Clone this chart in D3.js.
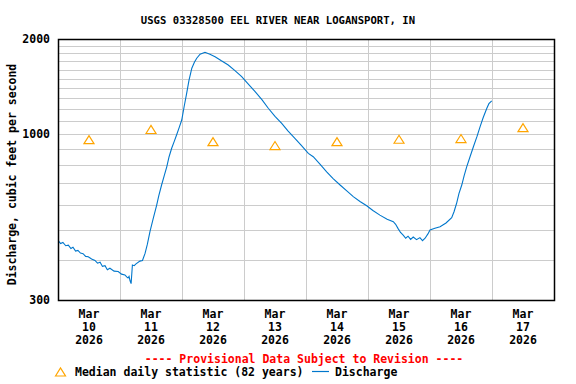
<!DOCTYPE html>
<html>
<head>
<meta charset="utf-8">
<script src="https://cdn.jsdelivr.net/npm/d3@7"></script>
<style>
  body { margin: 0; background: #fff; }
  text { font-family: "DejaVu Sans Mono", "Liberation Mono", monospace; font-weight: bold; }
</style>
</head>
<body>
<script>
// hours after Mar 10 2026 00:00, and discharge in cfs
var hours = [0.1, 1.0, 1.9, 3.0, 4.0, 5.0, 5.8, 6.8, 7.7, 8.7, 9.7, 10.7, 11.7, 13.0, 14.3, 15.3, 16.3, 17.2, 18.2, 19.1, 20.1, 21.7, 23.3, 24.6, 25.9, 26.6, 27.1, 27.5, 27.9, 28.3, 28.8, 29.5, 30.2, 31.7, 32.7, 33.7, 34.6, 35.6, 36.8, 38.2, 39.0, 40.1, 41.1, 42.1, 43.0, 44.0, 45.0, 45.9, 46.9, 47.9, 48.8, 49.8, 50.7, 51.8, 52.8, 53.7, 55.0, 56.9, 58.8, 60.8, 63.1, 65.9, 68.5, 71.1, 73.5, 76.3, 79.0, 81.4, 84.0, 86.6, 89.0, 91.7, 94.1, 96.9, 98.8, 101.4, 104.0, 106.5, 109.2, 111.9, 114.3, 116.9, 119.5, 121.9, 124.6, 127.4, 129.8, 130.7, 131.6, 132.6, 133.7, 134.6, 135.5, 136.5, 137.5, 138.8, 140.1, 141.1, 142.1, 143.2, 144.0, 145.9, 147.9, 150.2, 152.4, 153.3, 154.3, 155.2, 156.3, 157.2, 158.2, 159.5, 160.8, 162.2, 163.4, 164.6, 166.0, 166.8, 167.9];
var cfs = [462, 452, 456, 445, 447, 436, 440, 428, 430, 422, 420, 412, 411, 404, 400, 392, 395, 383, 385, 374, 378, 370, 369, 362, 360, 355, 352, 356, 345, 338, 387, 385, 390, 398, 400, 421, 450, 493, 540, 598, 640, 692, 740, 790, 850, 904, 950, 995, 1050, 1110, 1220, 1348, 1480, 1617, 1690, 1739, 1790, 1816, 1790, 1759, 1710, 1656, 1590, 1521, 1445, 1364, 1285, 1209, 1140, 1083, 1025, 972, 925, 871, 850, 805, 762, 725, 692, 662, 636, 614, 595, 575, 556, 540, 530, 520, 505, 490, 480, 470, 477, 466, 474, 465, 472, 462, 470, 485, 499, 505, 511, 525, 546, 570, 606, 650, 692, 740, 790, 850, 914, 985, 1058, 1130, 1209, 1250, 1275];

// median daily statistic at noon of each day
var medianDays = [10, 11, 12, 13, 14, 15, 16, 17];
var medianCfs = [962, 1036, 949, 922, 949, 965, 970, 1050];

var yTickLabels = [300, 1000, 2000];
var yGridValues = [400, 500, 600, 700, 800, 900, 1000, 1100, 1200, 1300, 1400, 1500, 1600, 1700, 1800, 1900];

var width = 576, height = 384;
var margin = {top: 39, right: 22, bottom: 84, left: 58};
var plotW = width - margin.left - margin.right;
var plotH = height - margin.top - margin.bottom;

var start = new Date(2026, 2, 10);
var end = new Date(2026, 2, 18);

var svg = d3.select("body").append("svg")
  .attr("width", width)
  .attr("height", height);

var g = svg.append("g")
  .attr("transform", "translate(" + margin.left + "," + margin.top + ")");

var x = d3.scaleTime().domain([start, end]).range([0, plotW]);
var y = d3.scaleLog().domain([300, 2000]).range([plotH, 0]);

// grid
var days = d3.timeDay.range(d3.timeDay.offset(start, 1), end);
g.selectAll(".vgrid").data(days).enter().append("line")
  .attr("x1", function(d) { return Math.round(x(d)) + 0.5; })
  .attr("x2", function(d) { return Math.round(x(d)) + 0.5; })
  .attr("y1", 0).attr("y2", plotH)
  .attr("stroke", "#cccccc").attr("stroke-width", 1);

g.selectAll(".hgrid").data(yGridValues).enter().append("line")
  .attr("x1", 0).attr("x2", plotW)
  .attr("y1", function(d) { return Math.round(y(d)) + 0.5; })
  .attr("y2", function(d) { return Math.round(y(d)) + 0.5; })
  .attr("stroke", "#cccccc").attr("stroke-width", 1);

// discharge line
var pts = hours.map(function(h, i) {
  return {t: d3.timeMinute.offset(start, Math.round(h * 60)), v: cfs[i]};
});
var line = d3.line()
  .x(function(d) { return x(d.t); })
  .y(function(d) { return y(d.v); });

g.append("path")
  .datum(pts)
  .attr("fill", "none")
  .attr("stroke", "#0077cc")
  .attr("stroke-width", 1.1)
  .attr("d", line);

// median triangles
function tri(cx, cy) {
  return "M" + (cx - 5) + "," + (cy + 4) + "L" + cx + "," + (cy - 4) + "L" + (cx + 5) + "," + (cy + 4) + "Z";
}
g.selectAll(".med").data(medianDays).enter().append("path")
  .attr("d", function(d, i) {
    return tri(x(new Date(2026, 2, d, 12)), y(medianCfs[i]));
  })
  .attr("fill", "none")
  .attr("stroke", "#ffa500")
  .attr("stroke-width", 1.2);

// frame
g.append("rect")
  .attr("x", 0.5).attr("y", 0.5)
  .attr("width", plotW).attr("height", plotH)
  .attr("fill", "none").attr("stroke", "#000").attr("stroke-width", 1.5);

// y labels
g.selectAll(".ylab").data(yTickLabels).enter().append("text")
  .attr("x", -8)
  .attr("y", function(d) { return y(d) + 4; })
  .attr("text-anchor", "end")
  .attr("font-size", "11.5px")
  .text(function(d) { return d; });

// x labels
var noons = medianDays.map(function(d) { return new Date(2026, 2, d, 12); });
var xl = g.selectAll(".xlab").data(noons).enter().append("text")
  .attr("text-anchor", "middle")
  .attr("font-size", "11.5px")
  .attr("transform", function(d) { return "translate(" + x(d) + "," + (plotH + 18) + ")"; });
xl.append("tspan").attr("x", 0).attr("y", 0).text(d3.timeFormat("%b"));
xl.append("tspan").attr("x", 0).attr("y", 13).text(function(d) { return d3.timeFormat("%-d")(d); });
xl.append("tspan").attr("x", 0).attr("y", 26).text(d3.timeFormat("%Y"));

// title
svg.append("text")
  .attr("x", 278).attr("y", 24)
  .attr("text-anchor", "middle")
  .attr("font-size", "10.6px")
  .text("USGS 03328500 EEL RIVER NEAR LOGANSPORT, IN");

// y axis title
svg.append("text")
  .attr("transform", "translate(16," + (margin.top + plotH / 2 + 5) + ") rotate(-90)")
  .attr("text-anchor", "middle")
  .attr("font-size", "11.5px")
  .text("Discharge, cubic feet per second");

// provisional note
svg.append("text")
  .attr("x", 304).attr("y", 363)
  .attr("text-anchor", "middle")
  .attr("font-size", "11.5px")
  .attr("fill", "#ff0000")
  .text("---- Provisional Data Subject to Revision ----");

// legend
svg.append("path")
  .attr("d", tri(60.5, 372))
  .attr("fill", "none").attr("stroke", "#ffa500").attr("stroke-width", 1.2);
svg.append("text")
  .attr("x", 75).attr("y", 376)
  .attr("font-size", "11.5px")
  .text("Median daily statistic (82 years)");
svg.append("line")
  .attr("x1", 312).attr("x2", 329).attr("y1", 371.5).attr("y2", 371.5)
  .attr("stroke", "#0077cc").attr("stroke-width", 1.2);
svg.append("text")
  .attr("x", 335).attr("y", 376)
  .attr("font-size", "11.5px")
  .text("Discharge");
</script>
</body>
</html>
